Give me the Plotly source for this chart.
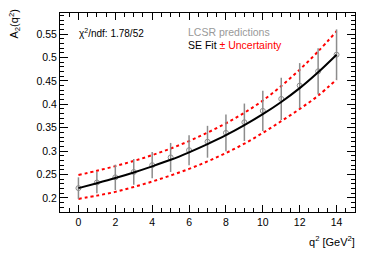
import plotly.graph_objects as go

# LCSR predictions
q2 = [0, 1, 2, 3, 4, 5, 6, 7, 8, 9, 10, 11, 12, 13, 14]
lcsr = [0.221, 0.233, 0.244, 0.2555, 0.270, 0.2865, 0.302, 0.320, 0.339, 0.3616, 0.386, 0.4115, 0.440, 0.4705, 0.506]
lcsr_err = [0.023, 0.023, 0.027, 0.0275, 0.028, 0.031, 0.032, 0.034, 0.039, 0.040, 0.043, 0.045, 0.048, 0.049, 0.054]

# SE fit and uncertainty band
fit = [0.221, 0.2315, 0.2425, 0.2545, 0.2675, 0.2815, 0.2975, 0.315, 0.334, 0.3555, 0.379, 0.405, 0.4345, 0.4685, 0.506]
fit_up = [0.249, 0.258, 0.268, 0.279, 0.2915, 0.3055, 0.3215, 0.3395, 0.3595, 0.382, 0.408, 0.439, 0.474, 0.513, 0.556]
fit_lo = [0.198, 0.205, 0.213, 0.2235, 0.235, 0.248, 0.262, 0.278, 0.296, 0.316, 0.339, 0.364, 0.390, 0.4185, 0.453]

y_ticks = [0.2, 0.25, 0.3, 0.35, 0.4, 0.45, 0.5, 0.55]
y_tick_text = ["0.2", "0.25", "0.3", "0.35", "0.4", "0.45", "0.5", "0.55"]
x_ticks = [0, 2, 4, 6, 8, 10, 12, 14]

FONT = "Liberation Sans, Arial, Helvetica, sans-serif"

fig = go.Figure()
fig.add_trace(go.Scatter(
    x=q2, y=fit_up, mode="lines", line=dict(color="#ff0000", width=2, dash="3px,3px"),
    line_shape="spline", showlegend=False, hoverinfo="skip"))
fig.add_trace(go.Scatter(
    x=q2, y=fit_lo, mode="lines", line=dict(color="#ff0000", width=2, dash="3px,3px"),
    line_shape="spline", showlegend=False, hoverinfo="skip"))
fig.add_trace(go.Scatter(
    x=q2, y=lcsr, mode="markers",
    marker=dict(symbol="circle-open", size=5, color="#8c8c8c", line=dict(width=1, color="#8c8c8c")),
    error_y=dict(type="data", array=lcsr_err, color="#8c8c8c", thickness=1.5, width=0),
    showlegend=False))
fig.add_trace(go.Scatter(
    x=q2, y=fit, mode="lines", line=dict(color="black", width=2), line_shape="spline",
    showlegend=False))

axis_common = dict(
    showline=True, linecolor="black", linewidth=1, mirror="allticks",
    ticks="inside", tickcolor="black", tickwidth=1,
    showgrid=False, zeroline=False, automargin=False,
    tickfont=dict(family=FONT, size=10.5, color="black"),
)

fig.update_xaxes(
    range=[-1, 15], tickvals=x_ticks, ticklen=7,
    minor=dict(dtick=0.5, ticklen=4, tickcolor="black", ticks="inside", showgrid=False),
    **axis_common)
fig.update_yaxes(
    range=[0.17, 0.595], tickvals=y_ticks, ticktext=y_tick_text, ticklen=8,
    minor=dict(dtick=0.01, tick0=0, ticklen=4, tickcolor="black", ticks="inside", showgrid=False),
    **axis_common)

W_PLOT = 295.0
H_PLOT = 199.0

def px_x(px):
    return (px - 60) / W_PLOT

def px_y(py):
    return (212 - py) / H_PLOT

annotations = [
    dict(text="A<sub>2</sub>(q<sup>2</sup>)", textangle=-90, x=px_x(14), y=px_y(8),
         xanchor="center", yanchor="top", font=dict(family=FONT, size=11, color="black")),
    dict(text="q<sup>2</sup> [GeV<sup>2</sup>]", x=px_x(357), y=px_y(241),
         xanchor="right", yanchor="middle", font=dict(family=FONT, size=11, color="black")),
    dict(text="χ<sup>2</sup>/ndf: 1.78/52", x=px_x(77), y=px_y(33),
         xanchor="left", yanchor="middle", font=dict(family=FONT, size=10, color="black")),
    dict(text="LCSR predictions", x=px_x(186), y=px_y(32),
         xanchor="left", yanchor="middle", font=dict(family=FONT, size=10.5, color="#999999")),
    dict(text="SE Fit <span style='color:#ff0000'>± Uncertainty</span>", x=px_x(186), y=px_y(45),
         xanchor="left", yanchor="middle", font=dict(family=FONT, size=10.5, color="black")),
]
for a in annotations:
    a.update(xref="paper", yref="paper", showarrow=False)

fig.update_layout(
    template="none",
    width=374, height=253,
    margin=dict(l=60, r=19, t=13, b=41, pad=0),
    paper_bgcolor="white", plot_bgcolor="white",
    annotations=annotations,
    font=dict(family=FONT),
)

fig.write_html(
    "out.html",
    config={"displayModeBar": False},
    post_script="document.body.style.margin='0';document.body.style.padding='0';document.body.style.overflow='hidden';",
)
